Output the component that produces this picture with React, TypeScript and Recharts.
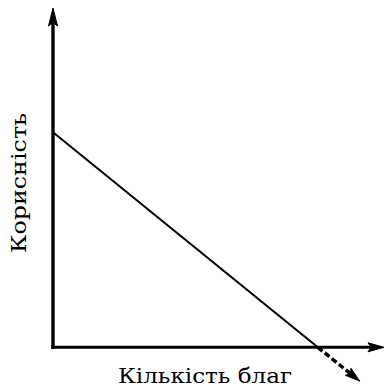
import { Line, LineChart, ReferenceLine, XAxis, YAxis } from 'recharts'

// quantity of goods vs. utility
const quantity = [0, 8]
const utility = [6.34, 0]

// dashed continuation below the axis
const overshootQuantity = [8, 9.27]
const overshootUtility = [0, -1.0]

const X_DOMAIN = [0, 10]
const Y_DOMAIN = [-1.2, 10]

const data = quantity.map((q, i) => ({ q, u: utility[i] }))

const FONT = '"DejaVu Serif", serif'

type ArrowProps = {
  x1?: number
  y1?: number
  x2?: number
  y2?: number
  stroke?: string
  strokeWidth?: number
  strokeDasharray?: string
  headLength?: number
  headWidth?: number
}

function Arrow({ x1 = 0, y1 = 0, x2 = 0, y2 = 0, stroke = '#000', strokeWidth = 3, strokeDasharray, headLength = 16, headWidth = 9 }: ArrowProps) {
  const dx = x2 - x1
  const dy = y2 - y1
  const len = Math.hypot(dx, dy) || 1
  const ux = dx / len
  const uy = dy / len
  const px = -uy
  const py = ux
  const bx = x2 - ux * headLength
  const by = y2 - uy * headLength
  const nx = x2 - ux * headLength * 0.8
  const ny = y2 - uy * headLength * 0.8
  const hw = headWidth / 2
  const pts = [
    [x2, y2],
    [bx + px * hw, by + py * hw],
    [nx, ny],
    [bx - px * hw, by - py * hw],
  ]
    .map((p) => p.join(','))
    .join(' ')
  return (
    <g>
      <line x1={x1} y1={y1} x2={nx} y2={ny} stroke={stroke} strokeWidth={strokeWidth} strokeDasharray={strokeDasharray} strokeLinecap="butt" />
      <polygon points={pts} fill={stroke} stroke={stroke} strokeWidth={1} strokeLinejoin="miter" />
    </g>
  )
}

export default function App() {
  return (
    <div style={{ position: 'absolute', left: 0, top: 0, width: 384, height: 392, background: '#fff' }}>
      <LineChart width={384} height={392} data={data} margin={{ top: 8, right: 0, bottom: 4, left: 53 }}>
        <XAxis type="number" dataKey="q" domain={X_DOMAIN} hide />
        <YAxis type="number" domain={Y_DOMAIN} hide />

        <ReferenceLine
          ifOverflow="visible"
          segment={[
            { x: 0, y: -0.05 },
            { x: 0, y: 10 },
          ]}
          shape={(p: ArrowProps) => <Arrow {...p} stroke="#000" strokeWidth={3.4} headLength={18} headWidth={9} />}
        />
        <ReferenceLine
          ifOverflow="visible"
          segment={[
            { x: -0.05, y: 0 },
            { x: 10, y: 0 },
          ]}
          shape={(p: ArrowProps) => <Arrow {...p} stroke="#000" strokeWidth={3} headLength={16} headWidth={9} />}
        />

        <Line
          type="linear"
          dataKey="u"
          stroke="#000"
          strokeWidth={2}
          dot={false}
          activeDot={false}
          isAnimationActive={false}
        />

        <ReferenceLine
          ifOverflow="visible"
          segment={[
            { x: overshootQuantity[0], y: overshootUtility[0] },
            { x: overshootQuantity[1], y: overshootUtility[1] },
          ]}
          shape={(p: ArrowProps) => (
            <Arrow {...p} stroke="#000" strokeWidth={3.5} strokeDasharray="6 3" headLength={15} headWidth={9} />
          )}
        />

        <text
          x={26}
          y={183}
          transform="rotate(-90 26 183)"
          textAnchor="middle"
          textLength={140}
          lengthAdjust="spacingAndGlyphs"
          fontFamily={FONT}
          fontSize={21}
          fill="#000"
        >
          Корисність
        </text>
        <text
          x={205}
          y={383}
          textAnchor="middle"
          textLength={174}
          lengthAdjust="spacingAndGlyphs"
          fontFamily={FONT}
          fontSize={21}
          fill="#000"
        >
          Кількість благ
        </text>
      </LineChart>
    </div>
  )
}
